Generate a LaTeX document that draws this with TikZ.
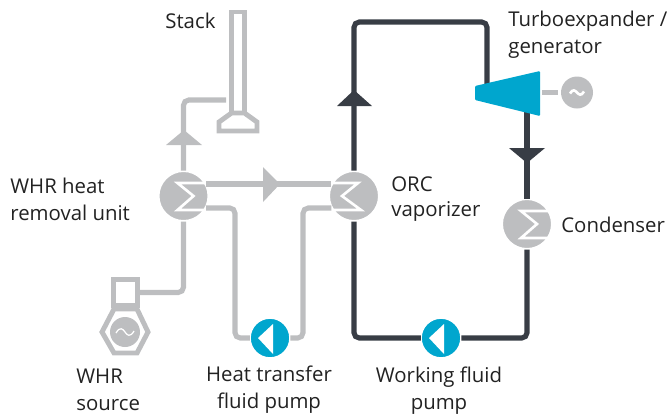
\documentclass[tikz,border=0pt]{standalone}
\usepackage{fontspec}
\setmainfont{Open Sans}
\usepackage{tikz}

\definecolor{pipegray}{HTML}{BDBEC0}
\definecolor{loopdark}{HTML}{383D45}
\definecolor{pumpblue}{HTML}{00A6CE}
\definecolor{labelink}{HTML}{222222}

\tikzset{
    exchanger/.style={circle, fill=pipegray, draw=white, line width=1.7pt, inner sep=0pt, outer sep=0pt, minimum size=1.02cm},
    pumpnode/.style={circle, fill=pumpblue, draw=white, line width=1.2pt, inner sep=0pt, outer sep=0pt, minimum size=0.81cm},
    pipe/.style={draw=pipegray, line width=2.9pt, rounded corners=3pt},
    loopline/.style={draw=loopdark, line width=2.9pt, rounded corners=3pt},
    zigzag/.style={draw=white, line width=1.5pt},
    outline/.style={draw=pipegray, line width=2.8pt, fill=white},
    label/.style={font=\fontsize{11.6}{14.1}\selectfont, text=labelink, inner sep=0pt}
}

% sigma marks and pump triangle, placed on a named node
\newcommand{\sigmamark}[1]{\draw[zigzag] ([shift={(22,-13)}]#1) -- ([shift={(-6,-13)}]#1) -- ([shift={(10,0)}]#1) -- ([shift={(-6,14)}]#1) -- ([shift={(22,14)}]#1);}
\newcommand{\sigmaback}[1]{\draw[zigzag] ([shift={(-22,-13)}]#1) -- ([shift={(4,-13)}]#1) -- ([shift={(-12,0)}]#1) -- ([shift={(7,14)}]#1) -- ([shift={(-22,14)}]#1);}
\newcommand{\pumpmark}[1]{\fill[white] ([shift={(-12,0)}]#1) -- ([shift={(3,-14)}]#1) -- ([shift={(3,16)}]#1) -- cycle;}

\begin{document}
\begin{tikzpicture}[x=0.02cm, y=-0.02cm]
    \useasboundingbox (0,0) rectangle (668,414);

    \node[exchanger] (whrunit) at (183.5,196) {};
    \node[exchanger] (orc) at (354,196) {};
    \node[exchanger] (condenser) at (527,224) {};
    \node[pumpnode] (htpump) at (270,338) {};
    \node[pumpnode] (wfpump) at (441,338) {};
    \node[circle, fill=pipegray, inner sep=0pt, outer sep=0pt, minimum size=0.64cm] (generator) at (577,92.5) {};
    \node[circle, fill=pipegray, inner sep=0pt, outer sep=0pt, minimum size=0.6cm] (whrdisc) at (125,332) {};
    \node[draw=pipegray, line width=2.8pt, inner sep=0pt, minimum width=0.48cm, minimum height=0.52cm] (whrbox) at (125.5,292.5) {};

    \coordinate (stackin) at (226,100);
    \coordinate (htleft) at (235,338);
    \coordinate (htright) at (303,208);
    \coordinate (looptop) at (487,22);
    \coordinate (turbtop) at (487,84);
    \coordinate (turbbot) at (527,112);
    \coordinate (turbout) at (542,92.5);

    % stack
    \draw[outline] (231.5,12) rectangle (244.5,113);
    \draw[outline] (231.5,113) -- (244.5,113) -- (257,122) -- (257,131) -- (219,131) -- (219,122) -- cycle;

    % source housing
    \draw[outline, fill=none] (102,332) -- (114,309) -- (137,309) -- (148,332) -- (137,353) -- (114,353) -- cycle;
    \draw[white, line width=0.7pt] (116,333) .. controls (120,326) and (123,329) .. (125,332) .. controls (127,335) and (130,338) .. (134,331);

    % heat transfer side
    \draw[pipe] (whrunit.north) |- (stackin);
    \draw[pipe] (whrunit.south) |- (whrbox.east);
    \draw[pipe] (whrunit.28) -- (orc.152);
    \draw[pipe] (whrunit.-28) -| (htleft) -- (htpump.west);
    \draw[pipe] (htpump.east) -| (htright) -- (orc.208);
    \fill[pipegray] (184,130) -- (166,145) -- (202,145) -- cycle;
    \fill[pipegray] (280,184) -- (263,167) -- (263,202) -- cycle;

    % working fluid loop
    \draw[loopline] (orc.north) |- (looptop) -- (turbtop);
    \draw[loopline] (turbbot) -- (condenser.north);
    \draw[loopline] (condenser.south) |- (wfpump.east);
    \draw[loopline] (wfpump.west) -| (orc.south);
    \fill[loopdark] (354,90) -- (337,106) -- (372,106) -- cycle;
    \fill[loopdark] (527,163) -- (509,148) -- (545,148) -- cycle;

    % turbine and generator
    \fill[pumpblue, rounded corners=0.6pt] (475,86) -- (540,71) -- (540,116) -- (475,100) -- cycle;
    \draw[draw=pipegray, line width=3.4pt, shorten >=2pt] (turbout) -- (generator.west);
    \draw[white, line width=1.5pt] (570,93.5) .. controls (573,88.5) and (575,90.5) .. (577,92.5) .. controls (579,94.5) and (581,96.5) .. (584,91.5);

    \sigmamark{whrunit.center}
    \sigmaback{orc.center}
    \sigmamark{condenser.center}
    \pumpmark{htpump.center}
    \pumpmark{wfpump.center}

    \node[label, anchor=base west] (stacklabel) at (165,28) {Stack};
    \node[label, anchor=west, align=left] (unitlabel) at (10,199) {WHR heat\\[1.2pt]removal unit};
    \node[label, anchor=west, align=left] (srclabel) at (76,390) {WHR\\[1.2pt]source};
    \node[label, anchor=center, align=center] (htlabel) at (269,390) {Heat transfer\\[1.2pt]fluid pump};
    \node[label, anchor=center, align=center] (wflabel) at (439,391) {Working fluid\\[1.2pt]pump};
    \node[label, anchor=west, align=left] (orclabel) at (391,199) {ORC\\[0.6pt]vaporizer};
    \node[label, anchor=base west] (condlabel) at (561,232) {Condenser};
    \node[label, anchor=west, align=left] (turblabel) at (508,35) {Turboexpander /\\[1.2pt]generator};
\end{tikzpicture}
\end{document}
